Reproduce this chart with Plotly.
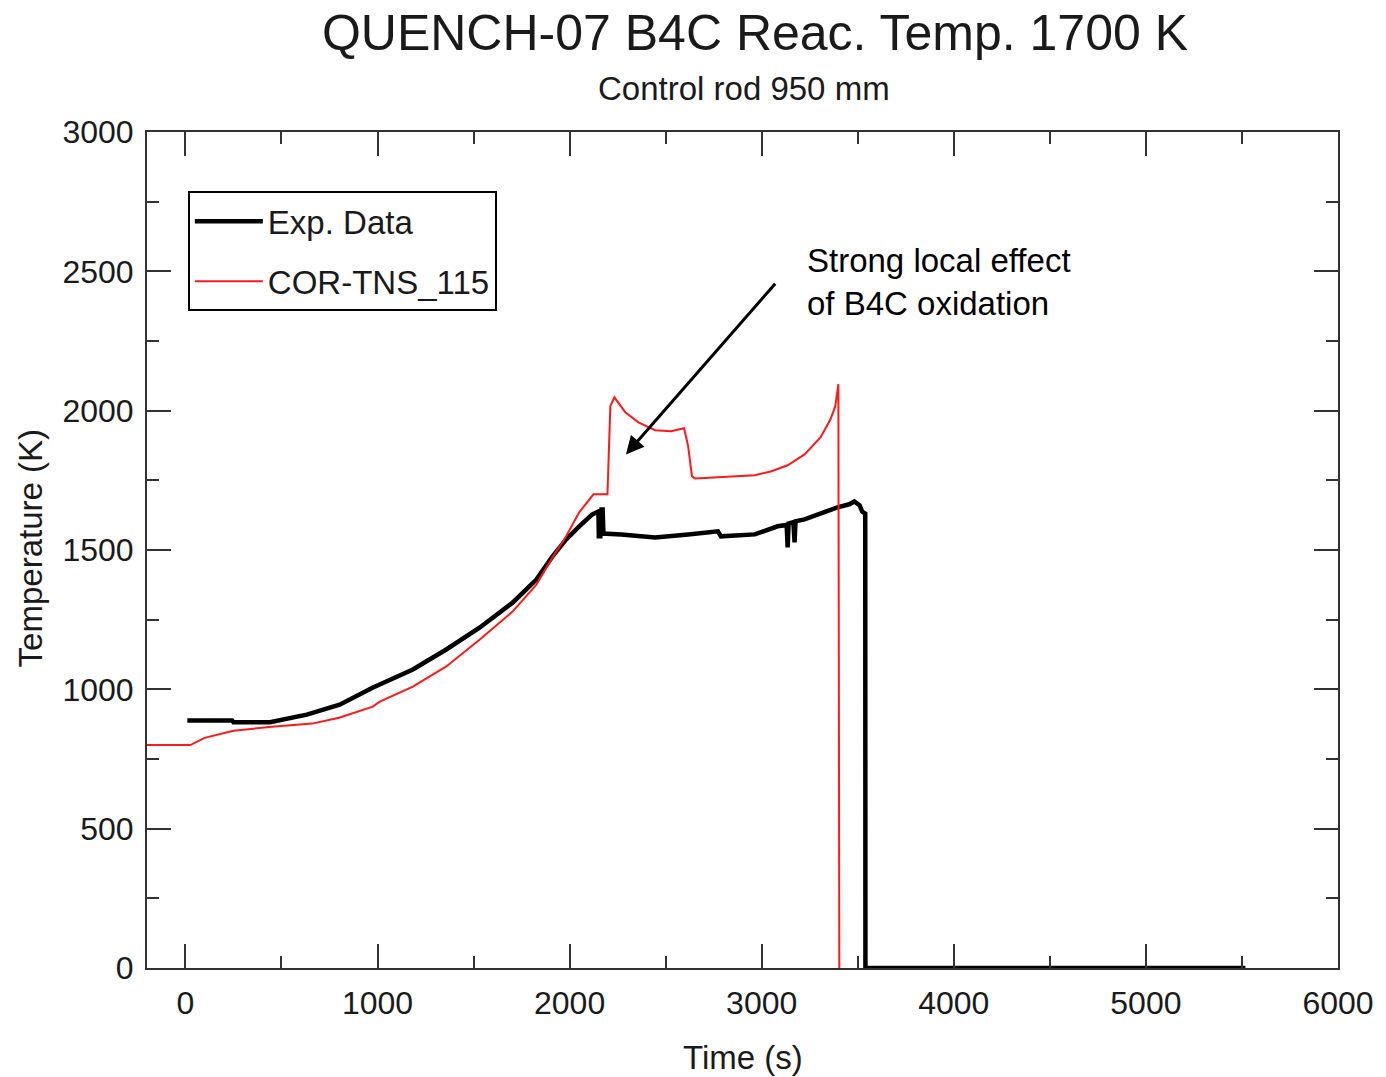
import plotly.graph_objects as go

# ---- data ----
exp_time = [10, 243, 250, 440, 632, 803, 974, 1012, 1184, 1358, 1531, 1703, 1827, 1911,
            1982, 2050, 2118, 2150, 2152, 2160, 2166, 2172, 2176, 2269, 2445, 2617,
            2772, 2788, 2964, 3083, 3130, 3135, 3140, 3165, 3171, 3176, 3223, 3394,
            3456, 3482, 3510, 3523, 3539, 3540, 5518]
exp_temp = [888, 888, 882, 882, 909, 945, 1006, 1017, 1071, 1143, 1221, 1311, 1394, 1477,
            1538, 1585, 1628, 1638, 1549, 1549, 1645, 1645, 1559, 1556, 1545, 1556,
            1567, 1549, 1556, 1585, 1590, 1509, 1595, 1600, 1527, 1603, 1610, 1653,
            1664, 1674, 1660, 1638, 1630, 0, 0]

cor_time = [-200, 25, 100, 250, 450, 660, 800, 975, 1012, 1184, 1358, 1531, 1703, 1827,
            1911, 1982, 2050, 2102, 2124, 2197, 2212, 2233, 2290, 2358, 2445, 2528,
            2596, 2617, 2637, 2653, 2756, 2964, 3047, 3135, 3223, 3306, 3358, 3383,
            3399, 3404]
cor_temp = [800, 800, 826, 851, 866, 877, 898, 938, 956, 1010, 1082, 1178, 1279, 1376,
            1473, 1549, 1635, 1681, 1700, 1700, 2016, 2048, 1994, 1958, 1930, 1926,
            1937, 1872, 1764, 1757, 1760, 1768, 1782, 1804, 1843, 1904, 1969, 2016,
            2095, 0]

x_ticks = [0, 1000, 2000, 3000, 4000, 5000, 6000]
y_ticks = [0, 500, 1000, 1500, 2000, 2500, 3000]

FONT = "Liberation Sans, Arial, sans-serif"
TXT = "#1a1a1a"
AX = "#333333"

fig = go.Figure()
fig.add_trace(go.Scatter(x=exp_time, y=exp_temp, mode="lines", name="Exp. Data",
                         legendgroup="a",
                         line=dict(color="black", width=4.5)))
fig.add_trace(go.Scatter(x=cor_time, y=cor_temp, mode="lines", name="COR-TNS_115",
                         legendgroup="b",
                         line=dict(color="#ff1a1a", width=2)))

axis_common = dict(showline=True, linecolor=AX, linewidth=2, mirror="ticks",
                   ticks="inside", ticklen=24, tickwidth=2, tickcolor=AX,
                   showgrid=False, zeroline=False,
                   tickfont=dict(family=FONT, size=32, color=TXT))

fig.update_xaxes(range=[-200, 6000], tickvals=x_ticks,
                 ticktext=[str(v) for v in x_ticks],
                 minor=dict(dtick=500, tick0=0, ticks="inside", ticklen=12,
                            tickwidth=2, tickcolor=AX),
                 ticklabelstandoff=6, **axis_common)
fig.update_yaxes(range=[0, 3000], tickvals=y_ticks,
                 ticktext=[str(v) for v in y_ticks],
                 minor=dict(dtick=250, tick0=0, ticks="inside", ticklen=12,
                            tickwidth=2, tickcolor=AX),
                 ticklabelstandoff=5, **axis_common)

fig.update_layout(
    width=1386, height=1077,
    margin=dict(l=147, r=44, t=132, b=109),
    paper_bgcolor="white", plot_bgcolor="white",
    font=dict(family=FONT, color=TXT),
    title=dict(text="QUENCH-07 B4C Reac. Temp. 1700 K",
               font=dict(family=FONT, size=50, color=TXT),
               x=0.5447, xanchor="center", y=1 - 32 / 1077, yanchor="middle",
               xref="container", yref="container"),
    showlegend=True,
    legend=dict(x=0.0343, y=0.929, xanchor="left", yanchor="top",
                bordercolor="black", borderwidth=2, bgcolor="white",
                font=dict(family=FONT, size=33, color=TXT),
                itemwidth=68,
                traceorder="grouped", tracegroupgap=14),
    annotations=[
        dict(text="Control rod 950 mm", xref="paper", yref="paper",
             x=0.501, y=(968 - 88) / 836, xanchor="center", yanchor="middle",
             showarrow=False, font=dict(family=FONT, size=33, color=TXT)),
        dict(text="Time (s)", xref="paper", yref="paper",
             x=(745 - 147) / 1195, y=(968 - 1057) / 836, xanchor="center",
             yanchor="middle", showarrow=False,
             font=dict(family=FONT, size=33, color=TXT)),
        dict(text="Temperature (K)", xref="paper", yref="paper",
             x=(30 - 147) / 1195, y=(968 - 548) / 836, xanchor="center",
             yanchor="middle", textangle=-90, showarrow=False,
             font=dict(family=FONT, size=33, color=TXT)),
        dict(text="", x=2293, y=1843, xref="x", yref="y",
             ax=3077, ay=2461, axref="x", ayref="y",
             showarrow=True, arrowhead=2, arrowsize=1.2, arrowwidth=3,
             arrowcolor="black"),
        dict(text="Strong local effect<br>of B4C oxidation", x=3223, y=2462,
             xref="x", yref="y", xanchor="left", yanchor="middle", align="left",
             showarrow=False, font=dict(family=FONT, size=33, color="black")),
    ],
)

fig.write_html("out.html", config={"displayModeBar": False},
               post_script="document.body.style.margin='0';document.body.style.padding='0';")
